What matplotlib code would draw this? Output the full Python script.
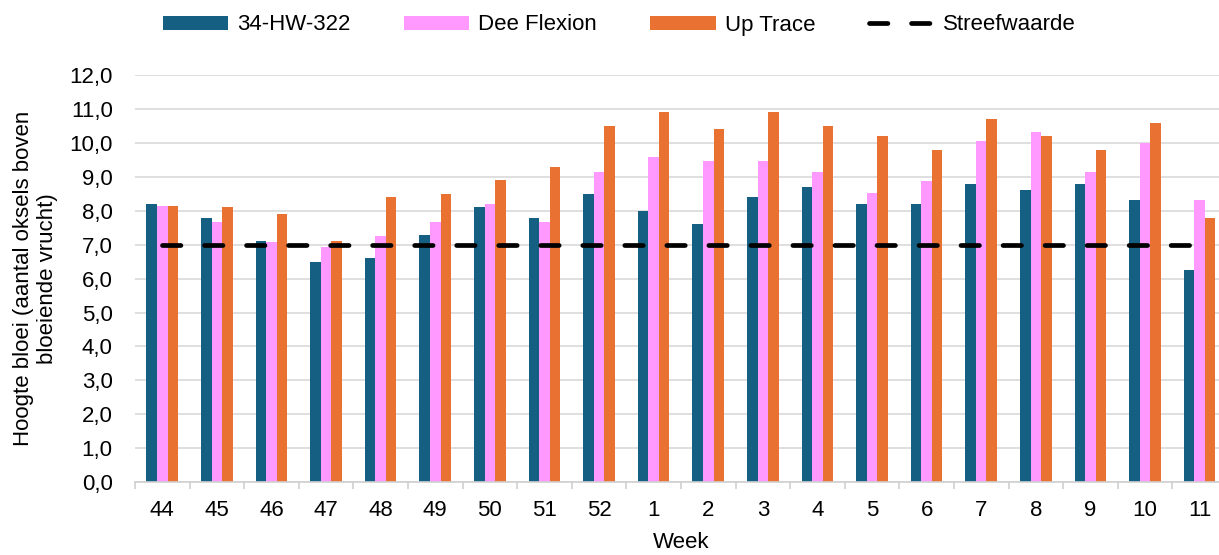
import matplotlib
matplotlib.use("Agg")
import matplotlib.pyplot as plt
import numpy as np
from matplotlib.ticker import FuncFormatter, FixedLocator

plt.rcParams['font.family'] = ['Liberation Sans', 'DejaVu Sans']

weeks = ["44", "45", "46", "47", "48", "49", "50", "51", "52",
         "1", "2", "3", "4", "5", "6", "7", "8", "9", "10", "11"]
hw322 = [8.2, 7.8, 7.1, 6.5, 6.6, 7.3, 8.1, 7.8, 8.5, 8.0,
         7.6, 8.4, 8.7, 8.2, 8.2, 8.8, 8.6, 8.8, 8.33, 6.25]
dee_flexion = [8.15, 7.67, 7.07, 6.93, 7.27, 7.67, 8.2, 7.67, 9.13, 9.6,
               9.47, 9.47, 9.13, 8.53, 8.87, 10.07, 10.33, 9.13, 10.0, 8.33]
up_trace = [8.15, 8.1, 7.9, 7.1, 8.4, 8.5, 8.9, 9.3, 10.5, 10.9,
            10.4, 10.9, 10.5, 10.2, 9.8, 10.7, 10.2, 9.8, 10.6, 7.8]
streefwaarde = [7.0] * len(weeks)

series_names = ["34-HW-322", "Dee Flexion", "Up Trace", "Streefwaarde"]
colors = ["#156082", "#FF99FF", "#E97132"]

FS = 16

fig = plt.figure(figsize=(12.19, 5.55), dpi=100)
ax = fig.add_axes([0.1107, 0.1315, 0.8958, 0.733])

x = np.arange(len(weeks))
w = 0.193
b1 = ax.bar(x - w, hw322, w, color=colors[0], label=series_names[0], zorder=2)
b2 = ax.bar(x, dee_flexion, w, color=colors[1], label=series_names[1], zorder=2)
b3 = ax.bar(x + w, up_trace, w, color=colors[2], label=series_names[2], zorder=2)
ln, = ax.plot(x, streefwaarde, color="black", lw=3.4, dashes=(3.9, 5.0),
              dash_capstyle="round", label=series_names[3], zorder=3)

ax.set_xlim(-0.5, len(weeks) - 0.5)
ax.set_ylim(0, 12)
ax.set_yticks(np.arange(0, 12.01, 1.0))
ax.yaxis.set_major_formatter(FuncFormatter(lambda v, p: f"{v:.1f}".replace(".", ",")))
ax.set_xticks(x)
ax.set_xticklabels(weeks)
ax.xaxis.set_minor_locator(FixedLocator(np.arange(-0.5, len(weeks), 1.0)))

ax.grid(axis="y", color="#d9d9d9", lw=1.2, zorder=0)
ax.set_axisbelow(True)
for s in ["top", "right", "left"]:
    ax.spines[s].set_visible(False)
ax.spines["bottom"].set_color("#d0d0d0")
ax.spines["bottom"].set_linewidth(1.2)

ax.tick_params(axis="y", length=0, pad=16, labelsize=FS, colors="black")
ax.tick_params(axis="x", which="major", length=0, pad=13, labelsize=FS)
ax.tick_params(axis="x", which="minor", length=5, width=1.2, color="#d0d0d0")

ax.set_xlabel("Week", fontsize=FS, labelpad=8)
ax.set_ylabel("Hoogte bloei (aantal oksels boven\nbloeiende vrucht)", fontsize=FS,
              multialignment="center", labelpad=8)

fig.legend([b1, b2, b3, ln], series_names,
           loc="center", bbox_to_anchor=(0.508, 1 - 25 / 555), ncol=4, frameon=False,
           fontsize=FS, handlelength=2.95, handleheight=0.6, handletextpad=0.4,
           columnspacing=2.4)

fig.savefig("out.png", dpi=100)
